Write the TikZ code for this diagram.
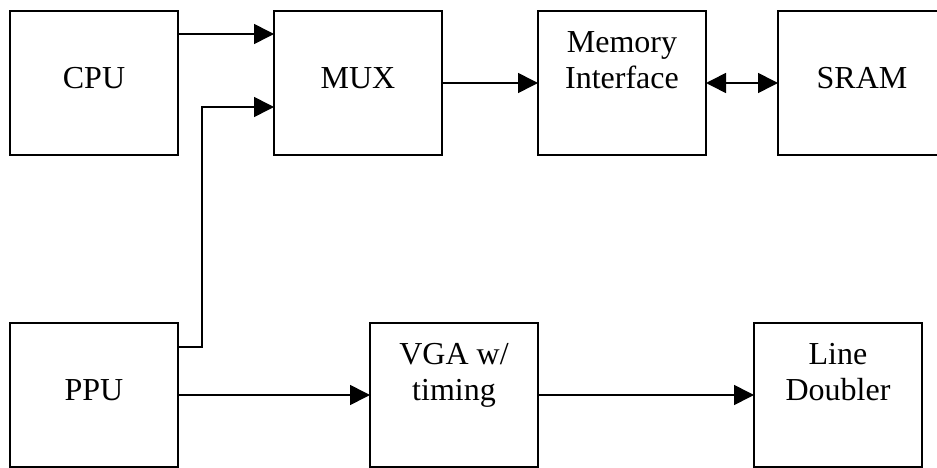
\documentclass[tikz,border=0pt]{standalone}
\usepackage{fontspec}
\setmainfont{Liberation Serif}
\usetikzlibrary{arrows.meta,positioning}

\begin{document}
\begin{tikzpicture}[x=1pt, y=1pt,
    blk/.style={draw, line width=1.6pt, minimum width=168pt, minimum height=144pt,
                inner sep=0pt, outer sep=0pt},
    txt/.style={font=\fontsize{32}{36}\selectfont, align=center,
                inner sep=0pt, anchor=north},
    arr/.style={-{Triangle[length=20pt,width=20pt]}, line width=1.6pt},
    biarr/.style={{Triangle[length=20pt,width=20pt]}-{Triangle[length=20pt,width=20pt]},
                  line width=1.6pt}
  ]
  \clip (0,0) rectangle (937,-468);
  % top row
  \node[blk] (cpu) at (94,-83) {};
  \node[blk, right=96pt of cpu] (mux) {};
  \node[blk, right=96pt of mux] (mem) {};
  \node[blk, right=72pt of mem] (sram) {};
  % bottom row
  \node[blk, below=168pt of cpu] (ppu) {};
  \node[blk, right=192pt of ppu] (vga) {};
  \node[blk, right=216pt of vga] (dbl) {};
  % texts
  \node[txt] (cput)  at ([yshift=-56pt]cpu.north)  {CPU};
  \node[txt] (muxt)  at ([yshift=-56pt]mux.north)  {MUX};
  \node[txt] (memt)  at ([yshift=-20pt]mem.north)  {Memory\\Interface};
  \node[txt] (sramt) at ([yshift=-56pt]sram.north) {SRAM};
  \node[txt] (pput)  at ([yshift=-56pt]ppu.north)  {PPU};
  \node[txt] (vgat)  at ([yshift=-20pt]vga.north)  {VGA w/\\timing};
  \node[txt] (dblt)  at ([yshift=-20pt]dbl.north)  {Line\\Doubler};
  % connectors
  \draw[arr] ([yshift=-23pt]cpu.north east) -- ([yshift=-23pt]mux.north west);
  \draw[arr] ([yshift=-24pt]ppu.north east) -- ++(24,0) |- ([yshift=-96pt]mux.north west);
  \draw[arr] (mux) -- (mem);
  \draw[biarr] (mem) -- (sram);
  \draw[arr] (ppu) -- (vga);
  \draw[arr] (vga) -- (dbl);
\end{tikzpicture}
\end{document}
